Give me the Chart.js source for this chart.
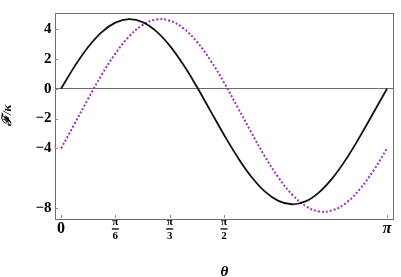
<!DOCTYPE html>
<html><head><meta charset="utf-8">
<script src="https://cdn.jsdelivr.net/npm/chart.js@4"></script>
<style>html,body{margin:0;padding:0;background:#fff}#wrap{width:401px;height:277px}</style>
</head><body><div id="wrap"><canvas id="c" width="401" height="277"></canvas></div>
<script>
// sample positions: theta = k*pi/24, k = 0..24
const thetaSteps = [0,1,2,3,4,5,6,7,8,9,10,11,12,13,14,15,16,17,18,19,20,21,22,23,24];
const thetaValues = thetaSteps.map(k => k * Math.PI / 24);
// solid black curve
const seriesSolid = [0.00,1.50,2.80,3.80,4.43,4.66,4.47,3.86,2.89,1.62,0.13,-1.48,-3.08,-4.58,-5.88,-6.88,-7.51,-7.74,-7.55,-6.94,-5.97,-4.70,-3.21,-1.61,0.00];
// dotted purple curve
const seriesDotted = [-4.00,-2.35,-0.67,0.94,2.36,3.49,4.27,4.64,4.56,4.06,3.15,1.91,0.42,-1.23,-2.91,-4.52,-5.94,-7.07,-7.85,-8.22,-8.14,-7.64,-6.73,-5.49,-4.00];
const xTickValues = [0, Math.PI/6, Math.PI/3, Math.PI/2, Math.PI];
const xTickLabels = ['0', ['π','','6'], ['π','','3'], ['π','','2'], 'π'];
const yTickValues = [4, 2, 0, -2, -4, -8];
const yTitle = 'ℱ/κ';
const xTitle = 'θ';

const SERIF = '"Liberation Serif","DejaVu Serif",serif';

const framePlugin = {
  id: 'frame',
  afterDatasetsDraw(chart) {
    const {ctx, chartArea: a, scales: {x, y}} = chart;
    ctx.save();
    ctx.strokeStyle = '#6e6e6e';
    ctx.lineWidth = 1;
    ctx.strokeRect(Math.round(a.left) + 0.5, Math.round(a.top) + 0.5,
      Math.round(a.right - a.left) - 1, Math.round(a.bottom - a.top));
    ctx.strokeStyle = '#8a8a8a';
    ctx.beginPath();
    x.ticks.forEach(t => {
      const px = Math.round(x.getPixelForValue(t.value)) + 0.5;
      ctx.moveTo(px, a.bottom); ctx.lineTo(px, a.bottom - 3);
    });
    y.ticks.forEach(t => {
      const py = Math.round(y.getPixelForValue(t.value)) + 0.5;
      ctx.moveTo(a.left, py); ctx.lineTo(a.left + 3, py);
    });
    ctx.stroke();
    // fraction bars under the tick numerators
    ctx.fillStyle = '#000';
    x.ticks.forEach((t, i) => {
      if (Array.isArray(xTickLabels[i])) {
        const px = x.getPixelForValue(t.value);
        ctx.fillRect(px - 3.5, a.bottom + 10.3, 7, 1.3);
      }
    });
    ctx.restore();
  }
};

new Chart(document.getElementById('c'), {
  type: 'line',
  data: {
    datasets: [
      {
        data: thetaValues.map((t, i) => ({x: t, y: seriesSolid[i]})),
        borderColor: '#111111', borderWidth: 1.8, pointRadius: 0, tension: 0.4, fill: false
      },
      {
        data: thetaValues.map((t, i) => ({x: t, y: seriesDotted[i]})),
        borderColor: '#a030c0', borderWidth: 2, borderDash: [2, 2], pointRadius: 0, tension: 0.4, fill: false
      }
    ]
  },
  options: {
    responsive: false, animation: false, devicePixelRatio: 1,
    layout: {padding: {top: 8, right: 7, left: 0, bottom: 0}},
    plugins: {legend: {display: false}, tooltip: {enabled: false}},
    scales: {
      x: {
        type: 'linear', min: -0.058, max: 3.209,
        afterBuildTicks: s => { s.ticks = xTickValues.map(v => ({value: v})); },
        afterFit: s => { s.height = 59; },
        grid: {display: false, drawTicks: false},
        border: {display: false},
        ticks: {
          autoSkip: false, maxRotation: 0, padding: 0.5, color: '#000',
          callback: (v, i) => xTickLabels[i],
          font: ctx => {
            const lab = xTickLabels[ctx.index];
            if (Array.isArray(lab)) return {family: SERIF, size: 11, weight: 'bold', lineHeight: '7px'};
            if (lab === 'π') return {family: SERIF, size: 16, weight: 'bold', style: 'italic', lineHeight: '21px'};
            return {family: SERIF, size: 16, weight: 'bold', lineHeight: '20px'};
          }
        },
        title: {display: true, text: xTitle, color: '#000', padding: 0,
          font: {family: SERIF, size: 15, weight: 'bold', style: 'italic', lineHeight: '10px'}}
      },
      y: {
        type: 'linear', min: -8.66, max: 5.11,
        afterBuildTicks: s => { s.ticks = yTickValues.map(v => ({value: v})); },
        afterFit: s => { s.width = 55; },
        grid: {drawTicks: false, lineWidth: 1, color: c => (c.tick && c.tick.value === 0) ? '#6e6e6e' : 'rgba(0,0,0,0)'},
        border: {display: false},
        ticks: {
          padding: 3.5, color: '#000',
          callback: v => v < 0 ? '\u2212' + (-v) : String(v),
          font: {family: SERIF, size: 15, weight: 'bold'}
        },
        title: {display: true, text: yTitle, color: '#000', padding: 0,
          font: {family: SERIF, size: 13, weight: 'bold', style: 'italic'}}
      }
    }
  },
  plugins: [framePlugin]
});
</script></body></html>
